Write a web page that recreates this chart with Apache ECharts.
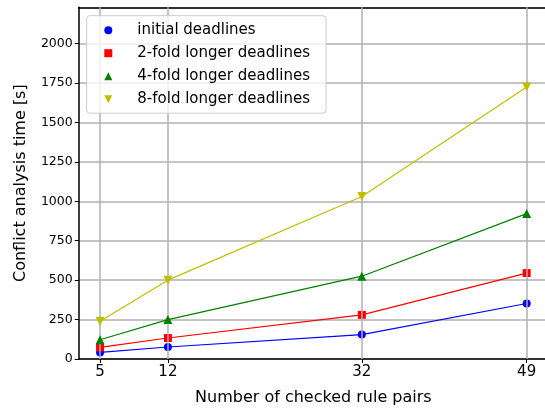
<!DOCTYPE html>
<html>
<head>
<meta charset="utf-8">
<script src="https://cdn.jsdelivr.net/npm/echarts@6/dist/echarts.min.js"></script>
<style>html,body{margin:0;padding:0;background:#fff;overflow:hidden}#c{width:545px;height:414px}</style>
</head>
<body>
<div id="c"></div>
<script>
var ruleCounts = [5, 12, 32, 49];
var initialDeadlines = [42, 76, 155, 352];
var twoFold = [74, 133, 280, 545];
var fourFold = [122, 250, 525, 922];
var eightFold = [240, 500, 1030, 1725];
var seriesNames = ['initial deadlines', '2-fold longer deadlines', '4-fold longer deadlines', '8-fold longer deadlines'];
var yTicks = [0, 250, 500, 750, 1000, 1250, 1500, 1750, 2000];

var colors = ['#0000ff', '#ff0000', '#008000', '#bfbf00'];
var symbols = ['circle', 'rect', 'triangle', 'path://M0,0 L10,0 L5,10 Z'];
var sizes = [8, 8, 9, 9];
var font = 'DejaVu Sans';

function pairs(vals) { return ruleCounts.map(function (x, i) { return [x, vals[i]]; }); }
var allVals = [initialDeadlines, twoFold, fourFold, eightFold];

var series = allVals.map(function (vals, k) {
  return {
    name: seriesNames[k],
    type: 'line',
    data: pairs(vals),
    symbol: symbols[k],
    symbolSize: sizes[k],
    symbolKeepAspect: true,
    showAllSymbol: true,
    itemStyle: { color: colors[k] },
    lineStyle: { color: colors[k], width: 1.2 },
    z: 3 + k
  };
});
series.push({
  type: 'line', data: [], silent: true, z: 1,
  markLine: {
    silent: true, symbol: 'none', animation: false,
    label: { show: false },
    lineStyle: { color: '#b0b0b0', width: 1.5, type: 'solid' },
    data: ruleCounts.map(function (x) { return { xAxis: x }; })
  }
});

var chart = echarts.init(document.getElementById('c'));
chart.setOption({
  animation: false,
  backgroundColor: '#fff',
  textStyle: { fontFamily: font },
  grid: { left: 78.7, top: 7.3, width: 469.3, bottom: 55, outerBoundsMode: 'none', containLabel: false, show: false },
  xAxis: [{
    type: 'value', min: 2.8, max: 51.2,
    name: 'Number of checked rule pairs', nameLocation: 'middle', nameGap: 31,
    nameTextStyle: { fontFamily: font, fontSize: 16, color: '#000' },
    axisLine: { show: true, onZero: false, lineStyle: { color: '#000', width: 1.5 } },
    axisTick: { show: true, customValues: ruleCounts, length: 4, lineStyle: { color: '#000', width: 1 } },
    axisLabel: { customValues: ruleCounts, fontFamily: font, fontSize: 15, color: '#000', margin: 6 },
    splitLine: { show: false }
  }, {
    type: 'value', position: 'top', min: 2.8, max: 51.2,
    axisLine: { show: true, onZero: false, lineStyle: { color: '#000', width: 1.5 } },
    axisTick: { show: false }, axisLabel: { show: false }, splitLine: { show: false }
  }],
  yAxis: {
    type: 'value', min: 0, max: 2230, interval: 250, position: 'left',
    name: 'Conflict analysis time [s]', nameLocation: 'middle', nameGap: 50,
    nameTextStyle: { fontFamily: font, fontSize: 16, color: '#000' },
    axisLine: { show: true, onZero: false, lineStyle: { color: '#000', width: 1.5 } },
    axisTick: { show: true, length: 4, lineStyle: { color: '#000', width: 1 } },
    axisLabel: { fontFamily: font, fontSize: 12.5, color: '#000', margin: 6, showMaxLabel: false,
      formatter: function (v) { return yTicks.indexOf(v) >= 0 ? String(v) : ''; } },
    splitLine: { show: true, lineStyle: { color: '#b0b0b0', width: 1.5 } }
  },
  legend: {
    orient: 'vertical', left: 86.7, top: 15.7,
    itemWidth: 8, itemHeight: 8, itemGap: 8,
    padding: [7, 16, 6.5, 17.6],
    backgroundColor: 'rgba(255,255,255,0.8)', borderColor: '#cccccc', borderWidth: 1, borderRadius: 3,
    textStyle: { fontFamily: font, fontSize: 15, color: '#000', padding: [0, 0, 0, 20] },
    data: seriesNames.map(function (n, k) {
      return { name: n, icon: symbols[k], itemStyle: { color: colors[k] } };
    }),
    z: 20
  },
  series: series
});
</script>
</body>
</html>
